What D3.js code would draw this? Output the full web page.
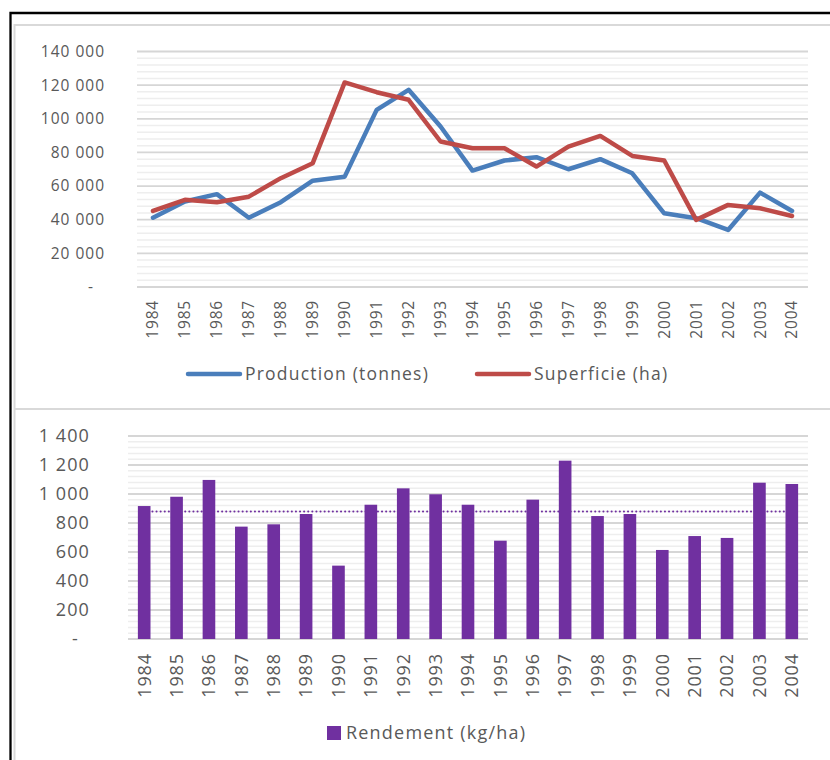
<!DOCTYPE html>
<html>
<head>
<meta charset="utf-8">
<script src="https://cdn.jsdelivr.net/npm/d3@7"></script>
<style>
  body { margin: 0; background: #fff; }
  text { font-family: "Open Sans", sans-serif; fill: #595959; }
</style>
</head>
<body>
<div id="chart"></div>
<script>
// data
const years = ["1984", "1985", "1986", "1987", "1988", "1989", "1990", "1991", "1992", "1993", "1994",
    "1995", "1996", "1997", "1998", "1999", "2000", "2001", "2002", "2003", "2004"];
const production = [41200, 50800, 55200, 41200, 50400, 63200, 65600, 105300, 117200, 95400, 69200,
    75200, 77200, 70000, 76000, 67600, 43800, 40900, 33900, 56100, 45200];
const superficie = [45200, 51800, 50400, 53700, 64700, 73600, 121600, 115800, 111300, 86500, 82500,
    82500, 71600, 83500, 89800, 77900, 75200, 39900, 48800, 46800, 42200];
const rendement = [917, 981, 1097, 775, 791, 862, 506, 926, 1039, 998, 926,
    678, 961, 1230, 848, 862, 614, 710, 697, 1078, 1069];
const rendementMoyen = 880;
const topTicks = [0, 20000, 40000, 60000, 80000, 100000, 120000, 140000];
const bottomTicks = [0, 200, 400, 600, 800, 1000, 1200, 1400];
const lineSeries = [
    { name: "Production (tonnes)", values: production, color: "#4a7ebb" },
    { name: "Superficie (ha)", values: superficie, color: "#be4b48" }
];

const fr = d3.formatLocale({ decimal: ",", thousands: "\u00a0", grouping: [3], currency: ["", ""] });
const fmt = fr.format(",d");

const svg = d3.select("#chart").append("svg")
    .attr("width", 830)
    .attr("height", 760);

// frames
svg.append("path")
    .attr("d", "M10.5,760 V13 H830")
    .attr("fill", "none")
    .attr("stroke", "#000")
    .attr("stroke-width", 2.3);
svg.append("path")
    .attr("d", "M14.5,409 V25 H830 M14.5,760 V409 H830")
    .attr("fill", "none")
    .attr("stroke", "#d9d9d9")
    .attr("stroke-width", 2);

function grid(g, y, x0, x1, minorStep, max, majorTicks) {
    g.selectAll(".minor")
        .data(d3.range(0, max + 1, minorStep).filter(v => !majorTicks.includes(v)))
        .join("line")
        .attr("x1", x0).attr("x2", x1)
        .attr("y1", d => y(d)).attr("y2", d => y(d))
        .attr("stroke", "#eeeeee")
        .attr("stroke-width", 1.5);
    g.selectAll(".major")
        .data(majorTicks)
        .join("line")
        .attr("x1", x0).attr("x2", x1)
        .attr("y1", d => y(d)).attr("y2", d => y(d))
        .attr("stroke", "#d6d6d6")
        .attr("stroke-width", 1.8);
}

// ---------- top chart : lines ----------
const xTop = d3.scaleBand().domain(years).range([137, 808]);
const yTop = d3.scaleLinear().domain([0, 140000]).range([287, 51.5]);
const cxTop = d => xTop(d) + xTop.bandwidth() / 2;

grid(svg.append("g"), yTop, 137, 808, 4000, 140000, topTicks);

svg.append("g").selectAll("text")
    .data(topTicks)
    .join("text")
    .attr("x", d => d == 0 ? 94 : 105)
    .attr("y", d => yTop(d))
    .attr("dy", "0.35em")
    .attr("text-anchor", "end")
    .style("font-size", "15.5px")
    .style("letter-spacing", "1px")
    .text(d => d == 0 ? "-" : fmt(d));

svg.append("g").selectAll("text")
    .data(years)
    .join("text")
    .attr("transform", d => "translate(" + cxTop(d) + ",300) rotate(-90)")
    .attr("dy", "0.35em")
    .attr("text-anchor", "end")
    .style("font-size", "15.5px")
    .style("letter-spacing", "0.8px")
    .text(d => d);

const line = d3.line()
    .x((d, i) => cxTop(years[i]))
    .y(d => yTop(d));

svg.append("g").selectAll("path")
    .data(lineSeries)
    .join("path")
    .attr("d", d => line(d.values))
    .attr("fill", "none")
    .attr("stroke", d => d.color)
    .attr("stroke-width", 4.5)
    .attr("stroke-linejoin", "round")
    .attr("stroke-linecap", "round");

const legendTop = svg.append("g");
const legendX = [188, 477];
lineSeries.forEach((s, i) => {
    legendTop.append("line")
        .attr("x1", legendX[i]).attr("x2", legendX[i] + 52)
        .attr("y1", 374).attr("y2", 374)
        .attr("stroke", s.color)
        .attr("stroke-width", 4.5)
        .attr("stroke-linecap", "round");
    legendTop.append("text")
        .attr("x", legendX[i] + 57)
        .attr("y", 374)
        .attr("dy", "0.35em")
        .style("font-size", "17.5px")
        .style("letter-spacing", "1.2px")
        .text(s.name);
});

// ---------- bottom chart : bars ----------
const xBot = d3.scaleBand().domain(years).range([128, 808]);
const yBot = d3.scaleLinear().domain([0, 1400]).range([639, 436]);
const cxBot = d => xBot(d) + xBot.bandwidth() / 2;
const barW = xBot.bandwidth() * 0.39;

grid(svg.append("g"), yBot, 128, 808, 40, 1400, bottomTicks);

svg.append("g").selectAll("text")
    .data(bottomTicks)
    .join("text")
    .attr("x", d => d == 0 ? 79 : 90)
    .attr("y", d => yBot(d))
    .attr("dy", "0.35em")
    .attr("text-anchor", "end")
    .style("font-size", "18px")
    .style("letter-spacing", "1.1px")
    .text(d => d == 0 ? "-" : fmt(d));

svg.append("g").selectAll("text")
    .data(years)
    .join("text")
    .attr("transform", d => "translate(" + cxBot(d) + ",653) rotate(-90)")
    .attr("dy", "0.35em")
    .attr("text-anchor", "end")
    .style("font-size", "18px")
    .style("letter-spacing", "0.9px")
    .text(d => d);

svg.append("line")
    .attr("x1", cxBot(years[0]))
    .attr("x2", cxBot(years[years.length - 1]))
    .attr("y1", yBot(rendementMoyen))
    .attr("y2", yBot(rendementMoyen))
    .attr("stroke", "#7030a0")
    .attr("stroke-width", 2)
    .attr("stroke-dasharray", "0.1 4")
    .attr("stroke-linecap", "round");

svg.append("g").selectAll("rect")
    .data(rendement)
    .join("rect")
    .attr("x", (d, i) => cxBot(years[i]) - barW / 2)
    .attr("y", d => yBot(d))
    .attr("width", barW)
    .attr("height", d => yBot(0) - yBot(d))
    .attr("fill", "#7030a0");

svg.append("rect")
    .attr("x", 327).attr("y", 726)
    .attr("width", 14).attr("height", 14)
    .attr("fill", "#7030a0");
svg.append("text")
    .attr("x", 346)
    .attr("y", 733)
    .attr("dy", "0.35em")
    .style("font-size", "18px")
    .style("letter-spacing", "1.2px")
    .text("Rendement (kg/ha)");
</script>
</body>
</html>
